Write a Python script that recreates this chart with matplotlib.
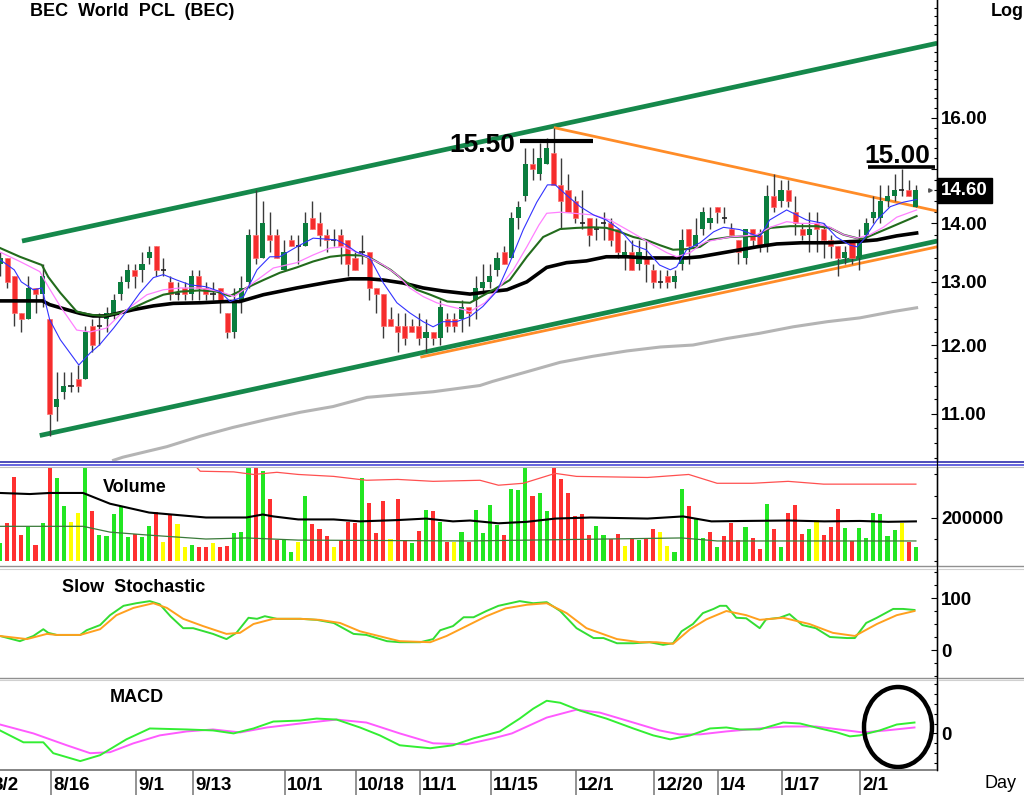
import numpy as np
import matplotlib.pyplot as plt
from matplotlib.lines import Line2D
from matplotlib.patches import Ellipse
from matplotlib.ticker import FixedLocator, NullFormatter, FuncFormatter

plt.rcParams['font.family'] = ['Liberation Sans', 'DejaVu Sans']
plt.rcParams['font.weight'] = 'bold'

# ============================================
# 1. Daily candles (index = trading day)
# ============================================

opens = [13.3, 13.4, 13.1, 12.5, 12.4, 12.9, 12.8, 12.4, 11.1, 11.3,
         11.4, 11.5, 11.5, 12.3, 12.3, 12.4, 12.5, 12.8, 13.0, 13.2,
         13.2, 13.4, 13.6, 13.2, 13.0, 12.8, 12.9, 12.8, 13.1, 12.9,
         12.8, 12.9, 12.5, 12.2, 12.7, 13.0, 13.8, 13.4, 13.8, 13.8,
         13.2, 13.7, 13.6, 13.6, 14.1, 14.0, 13.8, 13.7, 13.8, 13.7,
         13.4, 13.5, 13.5, 12.9, 12.8, 12.4, 12.3, 12.3, 12.3, 12.3,
         12.1, 12.2, 12.1, 12.4, 12.4, 12.4, 12.6, 12.7, 12.9, 13.0,
         13.2, 13.5, 13.4, 14.1, 14.5, 15.1, 14.9, 15.1, 15.3, 14.7,
         14.6, 14.4, 14.0, 14.1, 13.9, 14.0, 14.0, 13.9, 13.4, 13.5,
         13.3, 13.4, 13.2, 13.0, 13.1, 13.0, 13.3, 13.9, 13.6, 13.9,
         14.0, 14.3, 14.1, 13.9, 13.7, 13.4, 13.9, 13.8, 13.6, 14.5,
         14.4, 14.6, 14.2, 13.9, 13.8, 14.0, 13.9, 13.7, 13.6, 13.4,
         13.7, 13.4, 13.8, 14.1, 14.1, 14.4, 14.5, 14.6, 14.6, 14.3]
highs = [13.5, 13.4, 13.1, 12.5, 13.1, 12.9, 13.3, 12.4, 11.6, 11.6,
         11.6, 11.7, 12.3, 12.4, 12.5, 12.6, 12.8, 13.1, 13.3, 13.3,
         13.5, 13.6, 13.6, 13.4, 13.1, 13.0, 13.0, 13.2, 13.2, 13.0,
         13.0, 12.9, 12.5, 12.9, 13.1, 13.9, 14.6, 14.4, 14.2, 13.9,
         13.7, 13.8, 13.8, 14.2, 14.4, 14.2, 13.9, 13.9, 13.9, 13.7,
         13.5, 13.8, 13.5, 12.9, 12.8, 12.6, 12.5, 12.5, 12.4, 12.5,
         12.4, 12.2, 12.7, 12.5, 12.5, 12.7, 12.6, 13.1, 13.3, 13.3,
         13.5, 13.6, 14.2, 14.4, 15.4, 15.4, 15.5, 15.6, 15.8, 15.2,
         14.9, 14.5, 14.6, 14.1, 14.1, 14.2, 14.1, 13.9, 13.7, 13.7,
         13.7, 13.7, 13.3, 13.2, 13.2, 13.2, 13.9, 13.9, 14.1, 14.3,
         14.3, 14.3, 14.3, 14.0, 13.7, 13.9, 13.9, 13.9, 14.7, 14.9,
         14.8, 14.8, 14.5, 14.0, 14.2, 14.2, 14.0, 13.8, 13.6, 13.6,
         13.7, 13.9, 14.1, 14.5, 14.7, 14.7, 14.9, 15.0, 14.8, 14.7]
lows = [13.1, 12.9, 12.3, 12.2, 12.4, 12.5, 12.6, 10.7, 10.9, 11.2,
        11.3, 11.3, 11.5, 11.9, 12.0, 12.2, 12.4, 12.7, 12.9, 12.9,
        13.0, 13.3, 13.1, 13.1, 12.7, 12.7, 12.7, 12.7, 12.7, 12.7,
        12.7, 12.5, 12.1, 12.1, 12.5, 12.9, 13.3, 13.4, 13.5, 13.4,
        13.2, 13.6, 13.3, 13.6, 13.9, 13.6, 13.5, 13.6, 13.3, 13.1,
        13.2, 13.3, 12.7, 12.5, 12.1, 12.3, 11.9, 12.0, 12.2, 12.0,
        11.9, 12.0, 12.0, 12.2, 12.2, 12.2, 12.3, 12.4, 12.8, 12.9,
        13.1, 13.3, 13.4, 13.9, 14.4, 14.8, 14.8, 15.1, 14.7, 13.9,
        14.2, 14.0, 13.9, 13.6, 13.7, 13.7, 13.6, 13.4, 13.2, 13.2,
        13.2, 13.0, 12.9, 12.9, 12.9, 12.9, 13.2, 13.3, 13.6, 13.8,
        13.9, 14.0, 14.0, 13.8, 13.3, 13.3, 13.6, 13.5, 13.5, 14.2,
        14.3, 14.3, 13.8, 13.7, 13.5, 13.5, 13.4, 13.4, 13.1, 13.3,
        13.3, 13.2, 13.7, 14.0, 14.0, 14.3, 14.4, 14.5, 14.5, 14.3]
closes = [13.4, 13.0, 12.5, 12.4, 12.9, 12.8, 13.1, 11.0, 11.2, 11.4,
          11.4, 11.4, 12.2, 12.0, 12.3, 12.5, 12.7, 13.0, 13.2, 13.1,
          13.3, 13.5, 13.2, 13.2, 12.8, 12.8, 12.8, 13.1, 12.9, 12.8,
          12.8, 12.7, 12.2, 12.7, 12.9, 13.8, 13.4, 14.0, 13.7, 13.4,
          13.5, 13.6, 13.6, 14.0, 13.9, 13.8, 13.7, 13.7, 13.6, 13.3,
          13.2, 13.5, 12.9, 12.8, 12.3, 12.3, 12.2, 12.1, 12.2, 12.1,
          12.2, 12.1, 12.6, 12.3, 12.3, 12.6, 12.5, 12.9, 13.0, 13.1,
          13.4, 13.3, 14.1, 14.3, 15.1, 15.0, 15.2, 15.4, 14.7, 14.4,
          14.2, 14.1, 14.0, 13.8, 13.9, 14.0, 13.7, 13.5, 13.5, 13.2,
          13.5, 13.3, 13.0, 13.0, 13.0, 13.1, 13.7, 13.6, 13.8, 14.2,
          14.1, 14.2, 14.1, 13.8, 13.5, 13.9, 13.7, 13.6, 14.5, 14.3,
          14.6, 14.4, 14.0, 13.8, 13.9, 13.9, 13.7, 13.6, 13.4, 13.5,
          13.4, 13.7, 14.0, 14.2, 14.4, 14.5, 14.6, 14.6, 14.5, 14.6]

# moving averages (sampled along the drawn lines)
ma_blue_x = [0, 2, 3, 4.7, 5.9, 7, 8.5, 11.1, 12.7, 14, 16, 17.8, 19.7, 21.6, 23, 24.9,
             26.8, 29, 31, 32.4, 34.3, 36.2, 38, 39.4, 41.8, 44.1, 47.4, 48.8, 50.2, 52,
             54, 55.9, 57.7, 59.6, 61, 62.4, 64.3, 66.2, 68, 70, 71.8, 73.7, 75.6, 77.1,
             78.2, 79.8, 81.7, 83.6, 85.4, 87.3, 89.2, 91, 92.9, 94.4, 95.3, 96.7, 98.6,
             100.5, 101.9, 104.2, 107, 108.4, 110.8, 112.2, 113.6, 116, 117.8, 119.7,
             120.7, 121.6, 123.5, 125.4, 127.2, 129.1]
ma_blue = [13.37, 13.2, 13.0, 12.87, 12.9, 12.39, 12.08, 11.7, 11.88, 12.0, 12.26, 12.52,
           12.82, 13.07, 13.12, 13.03, 12.95, 12.92, 12.84, 12.68, 12.76, 13.2, 13.42,
           13.42, 13.59, 13.74, 13.71, 13.62, 13.5, 13.42, 12.98, 12.66, 12.5, 12.36,
           12.28, 12.36, 12.36, 12.44, 12.6, 12.85, 13.32, 13.89, 14.38, 14.7, 14.7,
           14.51, 14.3, 14.15, 14.06, 13.89, 13.62, 13.54, 13.28, 13.2, 13.25, 13.54,
           13.66, 13.85, 13.93, 13.89, 13.76, 14.06, 14.24, 14.15, 14.06, 14.0, 13.76,
           13.62, 13.59, 13.71, 14.06, 14.3, 14.38, 14.43]

ma_pink_x = [0, 2.8, 5.6, 6.8, 8.5, 10.8, 12.7, 15, 16.9, 18.8, 20.7, 23, 25.4, 28.2, 31,
             33, 36.2, 38.5, 41.8, 44.1, 46.5, 48.4, 50.2, 52, 54, 55.9, 57.7, 59.6, 61.5,
             63.4, 65.3, 66.2, 68.3, 70.4, 72.3, 74.2, 75.9, 77, 78.9, 80.8, 83.6, 85.9,
             88.3, 90.1, 92, 93.9, 95.3, 97.2, 98.6, 99.5, 102.8, 106.6, 108.5, 110.8,
             112.7, 115, 116.9, 118.8, 120.7, 122.5, 124.4, 126.3, 129.1]
ma_pink = [13.5, 13.34, 13.17, 12.92, 12.6, 12.23, 12.2, 12.26, 12.47, 12.63, 12.79, 12.87,
           12.9, 12.9, 12.84, 12.76, 13.03, 13.23, 13.32, 13.45, 13.57, 13.59, 13.5, 13.4,
           13.28, 13.12, 12.9, 12.76, 12.66, 12.6, 12.55, 12.52, 12.66, 12.92, 13.2,
           13.59, 13.97, 14.18, 14.2, 14.18, 14.15, 14.06, 13.89, 13.76, 13.62, 13.49,
           13.42, 13.49, 13.62, 13.68, 13.76, 13.8, 13.93, 14.03, 14.0, 14.0, 13.93, 13.8,
           13.74, 13.8, 13.93, 14.11, 14.24]

ma_green_x = [0, 2.8, 5.9, 6.8, 8.5, 10.8, 12.7, 14.6, 16.9, 18.8, 20.7, 23, 25.4, 28.2,
              30.5, 32.4, 34.7, 37.1, 39.4, 41.8, 44.1, 46.5, 48.8, 51.2, 52.6, 55, 56.8,
              58.7, 60.6, 63, 66.2, 69.5, 71.8, 74.2, 76.5, 78.9, 81.2, 83.6, 85.4, 87.3,
              89.2, 91, 92.9, 94.8, 96.7, 98.6, 100, 102.8, 106.6, 108.5, 111.3, 115,
              116.9, 118.8, 120.7, 121.6, 123.5, 125.4, 129.1]
ma_green = [13.57, 13.42, 13.28, 13.08, 12.82, 12.52, 12.47, 12.45, 12.5, 12.58, 12.68,
            12.79, 12.84, 12.86, 12.84, 12.77, 12.9, 13.03, 13.15, 13.24, 13.34, 13.42,
            13.45, 13.44, 13.37, 13.2, 13.03, 12.87, 12.79, 12.68, 12.66, 12.87, 13.03,
            13.42, 13.76, 13.9, 13.92, 13.93, 13.92, 13.85, 13.76, 13.71, 13.62, 13.54,
            13.55, 13.59, 13.71, 13.76, 13.78, 13.92, 13.95, 13.95, 13.92, 13.8, 13.74,
            13.73, 13.83, 13.93, 14.13]

ma_black_x = [0, 6, 7, 9.4, 11.3, 13.1, 15, 16.9, 18.8, 21.6, 24.4, 28.2, 31.9, 33.8, 37.1,
              41.8, 46.5, 49.3, 52, 54, 56.8, 59.6, 62.4, 66.2, 67.6, 71.4, 74.2, 77, 79.8,
              82.6, 85.4, 88.3, 91, 93.9, 96.7, 98.6, 101.9, 106.6, 109.4, 112.9, 116.9,
              119.7, 121.6, 123.5, 126.3, 129.1]
ma_black = [12.69, 12.69, 12.63, 12.55, 12.49, 12.45, 12.45, 12.5, 12.55, 12.61, 12.65,
            12.66, 12.68, 12.68, 12.79, 12.9, 13.0, 13.05, 13.05, 13.03, 12.98, 12.9, 12.85,
            12.8, 12.82, 12.87, 13.0, 13.24, 13.32, 13.35, 13.42, 13.42, 13.4, 13.4, 13.4,
            13.42, 13.49, 13.59, 13.64, 13.66, 13.66, 13.68, 13.69, 13.71, 13.78, 13.83]

ma_gray_x = [16, 17.3, 23.5, 28.2, 32.8, 37.6, 42.3, 46.9, 51.7, 56.3, 61, 67.6, 69.4, 74.2,
             78.9, 83.5, 88.3, 93, 97.6, 102.4, 107, 111.7, 116.5, 121.1, 125.8, 129.1]
ma_gray = [10.37, 10.41, 10.55, 10.69, 10.81, 10.92, 11.02, 11.1, 11.23, 11.27, 11.31, 11.4,
           11.46, 11.6, 11.74, 11.83, 11.91, 11.97, 12.0, 12.1, 12.18, 12.28, 12.36, 12.42,
           12.52, 12.58]

# trend lines drawn by hand on the chart (x = day index, y = price)
channel_top_x, channel_top_y = [3.1, 132.0], [13.69, 17.59]
channel_bot_x, channel_bot_y = [5.6, 132.0], [10.70, 13.69]
support_x, support_y = [59.4, 132.0], [11.82, 13.59]
resist_x, resist_y = [78.2, 132.0], [15.80, 14.22]
top_1550_x, top_1550_y = [73.2, 83.5], [15.54, 15.54]
top_1500_x, top_1500_y = [122.3, 131.7], [15.03, 15.03]
last_price = 14.60

# ============================================
# 2. Volume (thousands of shares) and its averages
# ============================================

volume_k = [82, 173, 386, 118, 155, 73, 173, 440, 382, 255,
            177, 223, 440, 232, 118, 114, 218, 255, 109, 123,
            109, 159, 227, 86, 218, 168, 64, 73, 64, 64,
            82, 64, 68, 127, 132, 440, 440, 415, 286, 95,
            95, 41, 86, 300, 168, 145, 114, 64, 95, 177,
            173, 382, 268, 127, 277, 100, 286, 95, 82, 136,
            236, 232, 177, 86, 86, 132, 88, 235, 129, 258,
            167, 118, 333, 330, 440, 300, 314, 230, 440, 379,
            314, 209, 217, 121, 162, 118, 98, 124, 68, 103,
            94, 98, 148, 132, 68, 41, 333, 255, 200, 103,
            132, 64, 112, 174, 95, 156, 103, 53, 262, 148,
            64, 220, 258, 124, 148, 189, 117, 156, 241, 152,
            92, 152, 103, 220, 217, 112, 141, 174, 86, 64]
# g = up on previous close, r = down, y = unchanged
volume_tone = list('grrrgrgrgg' 'yygrgggggr' 'ggryryygrr' 'yrrgggrgrr'
                   'ggygrrryrr' 'rgrrryrrgr' 'grgrygrggg' 'grgggrggrr'
                   'rrrrggrryr' 'grryyggrgg' 'rgrrrgrrgr' 'grrrgyrrrg'
                   'rggggggyrg')

vol_black_x = [0, 4.2, 7, 11.7, 15.5, 21, 29, 34.7, 37, 38.5, 42, 47, 50.7, 56, 60, 63.8,
               66.2, 70.2, 74.2, 78.2, 83.2, 91.2, 96.2, 100.2, 105, 111.1, 116.1, 121.1,
               125.1, 129]
vol_black = [314, 309, 314, 314, 264, 223, 200, 200, 214, 205, 191, 191, 182, 188, 195, 182,
             186, 173, 180, 195, 200, 195, 205, 182, 184, 186, 182, 184, 180, 182]
vol_green_x = [0, 11.7, 15.5, 21, 29, 34.7, 42, 66, 96, 101, 129]
vol_green = [159, 159, 132, 118, 100, 105, 95, 91, 105, 91, 91]
vol_red_x = [27.5, 28.2, 32.9, 35.7, 39, 42, 47, 51.6, 56, 61, 67.6, 70.2, 73.7, 78.2, 81.2,
             91.2, 97, 101, 106, 111, 116, 129]
vol_red = [440, 415, 412, 400, 410, 400, 391, 373, 377, 368, 373, 350, 359, 405, 391, 386,
           400, 359, 359, 368, 355, 355]

# ============================================
# 3. Slow stochastic and MACD
# ============================================

stoch_k_x = [0, 2.8, 4.7, 6.1, 6.8, 8, 11.3, 12.2, 14.1, 15.5, 17.4, 19.2, 21.1, 22.5, 24,
             25.8, 27.2, 30, 31.9, 33.3, 35, 36.2, 37.3, 39, 42.3, 44.6, 47, 49.8, 51.6,
             54.5, 56.3, 59.2, 61, 62, 63.8, 65.3, 66.7, 68.5, 70.2, 73.2, 75.1, 77, 78.9,
             81.2, 83.6, 85, 86.9, 89.2, 91.5, 93.4, 94.8, 96, 97.6, 99, 100.5, 101.4,
             102.3, 103.7, 105.1, 107, 107.9, 109.8, 111.2, 113, 114.9, 116.9, 119.3,
             120.4, 122, 123.5, 125.8, 127.2, 128.8]
stoch_k = [27, 17, 27, 40, 33, 29, 29, 38, 48, 67, 85, 90, 94, 88, 65, 42, 42, 31, 21, 33,
           62, 60, 65, 60, 60, 58, 52, 31, 29, 17, 15, 15, 21, 38, 46, 63, 63, 75, 85, 94,
           90, 92, 75, 42, 23, 23, 13, 13, 15, 10, 13, 36, 50, 71, 79, 85, 85, 62, 61, 42,
           59, 62, 69, 48, 42, 25, 23, 23, 52, 62, 79, 79, 77]
stoch_d_x = [0, 3.8, 6.6, 8, 11.3, 14.1, 16.4, 18.8, 21.6, 23.5, 25.8, 28.6, 31.9, 33.8,
             35.7, 38.5, 42.3, 45, 47.9, 50.7, 54.5, 56.3, 60.6, 62.9, 65.7, 68.5, 71.2,
             74.2, 77, 79.8, 82.6, 86.9, 90.1, 92.4, 94.8, 97.2, 99.5, 102.3, 105.1, 107,
             110.3, 114, 117.3, 120.4, 123.5, 126.3, 128.8]
stoch_d = [27, 21, 31, 29, 29, 40, 67, 81, 90, 81, 60, 46, 31, 33, 50, 60, 60, 58, 52, 36,
           23, 17, 15, 27, 46, 65, 80, 87, 90, 71, 42, 21, 15, 15, 12, 40, 59, 75, 67, 58,
           62, 50, 33, 27, 50, 67, 75]

macd_x = [0, 3.3, 6.1, 7.5, 11.3, 14.1, 17.8, 21.1, 26.3, 30, 32.9, 35.7, 38.5, 42.3, 44.6,
          47.4, 50.7, 53.5, 56.3, 60.6, 63.8, 66.7, 70.4, 73.2, 75.1, 77, 78.9, 81.7, 85.4,
          89.2, 92, 94.4, 97.2, 100, 102.3, 104.2, 107, 110.3, 112.7, 115.5, 117.9, 119.7,
          121.1, 123.9, 126.3, 128.8]
macd = [0.03, -0.09, -0.09, -0.2, -0.28, -0.22, -0.06, 0.05, 0.04, 0.03, 0.0, 0.05, 0.12,
        0.13, 0.15, 0.14, 0.06, -0.02, -0.12, -0.15, -0.12, -0.05, 0.02, 0.15, 0.25, 0.33,
        0.31, 0.23, 0.15, 0.05, -0.02, -0.06, -0.02, 0.05, 0.06, 0.04, 0.04, 0.11, 0.1,
        0.05, 0.01, -0.03, -0.02, 0.03, 0.09, 0.11]
signal_x = [0, 4.7, 9.4, 12.7, 15.5, 18.8, 22.5, 26.3, 30, 33.8, 37.6, 42.3, 47.4, 51.6,
            56.3, 61, 65.7, 69.5, 72.1, 77, 81.2, 84.5, 89.2, 92.9, 95.7, 98.6, 102.3, 107,
            110.7, 114.9, 118.2, 121.5, 124.8, 128.8]
signal = [0.09, 0.0, -0.12, -0.2, -0.19, -0.1, -0.02, 0.02, 0.04, 0.01, 0.06, 0.1, 0.14,
          0.11, 0.0, -0.1, -0.11, -0.05, 0.0, 0.16, 0.24, 0.21, 0.11, 0.03, -0.01, -0.01,
          0.02, 0.05, 0.07, 0.07, 0.04, 0.01, 0.03, 0.06]

date_labels = ['8/2', '8/16', '9/1', '9/13', '10/1', '10/18', '11/1', '11/15', '12/1',
               '12/20', '1/4', '1/17', '2/1']
date_pos = [-1.5, 7, 19, 27, 40, 50, 59, 69, 81, 92, 101, 110, 121]

# ============================================
# 4. Layout
# ============================================

W, H = 1024, 795
XMAX = 937 / 7.1


def panel(top, bottom, left=0, right=937):
    return [left / W, 1 - bottom / H, (right - left) / W, (bottom - top) / H]


def hline_fig(y, color, lw):
    fig.add_artist(Line2D([0, 1], [1 - y / H, 1 - y / H], transform=fig.transFigure,
                          color=color, lw=lw))


fig = plt.figure(figsize=(W / 100, H / 100), dpi=100)
ax_p = fig.add_axes(panel(0, 461))
ax_v = fig.add_axes(panel(468, 565))
ax_s = fig.add_axes(panel(569, 677))
ax_m = fig.add_axes(panel(680, 770))
ax_d = fig.add_axes(panel(770, 795))

for ax in [ax_p, ax_v, ax_s, ax_m]:
    ax.set_xlim(0, XMAX)
    for side in ['top', 'left', 'bottom']:
        ax.spines[side].set_visible(False)
    ax.spines['right'].set_linewidth(1.0)
    ax.yaxis.tick_right()
    ax.set_xticks([])
    ax.tick_params(axis='y', which='major', direction='in', length=4, width=0.8,
                   pad=3, labelsize=13.5)
    ax.tick_params(axis='y', which='minor', direction='in', length=2.5, width=0.8)

# ============================================
# 5. Price panel
# ============================================

idx = np.arange(len(closes))
o = np.array(opens)
h = np.array(highs)
l = np.array(lows)
c = np.array(closes)

ax_p.set_yscale('log')
ax_p.set_ylim(10.36, 18.58)

ax_p.plot(channel_top_x, channel_top_y, color='#15884b', lw=3.4, solid_capstyle='butt', zorder=2)
ax_p.plot(channel_bot_x, channel_bot_y, color='#15884b', lw=3.4, solid_capstyle='butt', zorder=2)
ax_p.plot(support_x, support_y, color='#ff8c28', lw=2.0, zorder=1.9)
ax_p.plot(resist_x, resist_y, color='#ff8c28', lw=2.0, zorder=2)
ax_p.plot(ma_gray_x, ma_gray, color='#b4b4b4', lw=2.2, zorder=2)

ax_p.vlines(idx, l, h, color='#3a3a3a', lw=1.0, zorder=3)
up = c > o
down = c < o
flat = c == o
ax_p.bar(idx[up], c[up] - o[up], bottom=o[up], width=0.72, color='#0b7d3e', zorder=4)
ax_p.bar(idx[down], o[down] - c[down], bottom=c[down], width=0.72, color='#f52d2d',
         edgecolor='#ff7070', lw=0.5, zorder=4)
ax_p.hlines(c[flat], idx[flat] - 0.38, idx[flat] + 0.38, color='#202020', lw=1.2, zorder=4)

ax_p.plot(ma_black_x, ma_black, color='black', lw=2.6, zorder=5)
ax_p.plot(ma_green_x, ma_green, color='#226b1c', lw=1.5, zorder=5)
ax_p.plot(ma_pink_x, ma_pink, color='#ff80ff', lw=0.9, zorder=5)
ax_p.plot(ma_blue_x, ma_blue, color='#3333ff', lw=0.8, zorder=5)

ax_p.plot(top_1550_x, top_1550_y, color='black', lw=3.0, solid_capstyle='butt', zorder=6)
ax_p.plot(top_1500_x, top_1500_y, color='black', lw=2.6, solid_capstyle='butt', zorder=6)
ax_p.text(72.6, 15.33, '15.50', fontsize=19, ha='right', va='baseline', zorder=7)
ax_p.text(121.8, 15.11, '15.00', fontsize=19, ha='left', va='baseline', zorder=7)
ax_p.plot([131.0], [last_price], marker='>', ms=2.5, color='#555555', zorder=6)

ax_p.yaxis.set_major_locator(FixedLocator([11, 12, 13, 14, 15, 16]))
ax_p.yaxis.set_major_formatter(FuncFormatter(lambda v, p: '' if v == 15 else f'{v:.2f}'))
ax_p.yaxis.set_minor_locator(FixedLocator([round(10.4 + 0.2 * k, 1) for k in range(41)]))
ax_p.yaxis.set_minor_formatter(NullFormatter())
ax_p.text(1.004, last_price, f'{last_price:.2f}', transform=ax_p.get_yaxis_transform(),
          color='white', fontsize=13.5, ha='left', va='center',
          bbox=dict(boxstyle='square,pad=0.22', fc='black', ec='black'))

# ============================================
# 6. Volume panel
# ============================================

tone_color = {'g': '#22e622', 'r': '#ff3030', 'y': '#ffff00'}
ax_v.bar(idx, volume_k, width=0.58, color=[tone_color[t] for t in volume_tone], zorder=2)
ax_v.plot(vol_red_x, vol_red, color='#ff5050', lw=0.9, zorder=3)
ax_v.plot(vol_green_x, vol_green, color='#3a7a3a', lw=0.9, zorder=3)
ax_v.plot(vol_black_x, vol_black, color='black', lw=1.5, zorder=3)
ax_v.set_ylim(-20.7, 430)
ax_v.yaxis.set_major_locator(FixedLocator([200]))
ax_v.yaxis.set_major_formatter(FuncFormatter(lambda v, p: '200000'))
ax_v.yaxis.set_minor_locator(FixedLocator([0, 100, 300, 400]))
fig.text(103 / W, 1 - 487 / H, 'Volume', fontsize=13, va='center')

# ============================================
# 7. Slow stochastic panel
# ============================================

ax_s.plot(stoch_k_x, stoch_k, color='#33dd33', lw=1.4)
ax_s.plot(stoch_d_x, stoch_d, color='#ffa01e', lw=1.4)
ax_s.set_ylim(-51.9, 155.8)
ax_s.yaxis.set_major_locator(FixedLocator([0, 100]))
ax_s.yaxis.set_minor_locator(FixedLocator([-50, -25, 25, 50, 75, 125, 150]))
fig.text(62 / W, 1 - 587 / H, 'Slow  Stochastic', fontsize=13, va='center')

# ============================================
# 8. MACD panel
# ============================================

ax_m.plot(signal_x, signal, color='#ff5aff', lw=1.4)
ax_m.plot(macd_x, macd, color='#33ee33', lw=1.4)
ax_m.set_ylim(-0.37, 0.54)
ax_m.yaxis.set_major_locator(FixedLocator([0]))
ax_m.yaxis.set_major_formatter(FuncFormatter(lambda v, p: '0'))
ax_m.yaxis.set_minor_locator(FixedLocator([-0.3, -0.2, -0.1, 0.1, 0.2, 0.3, 0.4, 0.5]))
fig.text(110 / W, 1 - 698 / H, 'MACD', fontsize=13, va='center')

# circle drawn around the latest crossover
fig.add_artist(Ellipse((898 / W, 1 - 727 / H), 68 / W, 80 / H, transform=fig.transFigure,
                       fill=False, ec='black', lw=3.2))

# ============================================
# 9. Date strip, separators and headings
# ============================================

ax_d.set_xlim(0, XMAX)
ax_d.set_ylim(0, 1)
ax_d.axis('off')
for pos, lab in zip(date_pos, date_labels):
    ax_d.vlines(pos + 0.15, 0, 1, color='#808080', lw=1.2)
    ax_d.text(pos + 0.45, 0.36, lab, fontsize=13.5, ha='left', va='center', clip_on=True)

hline_fig(461.5, '#1c1ca6', 1.1)
hline_fig(464.5, '#3a3ad6', 1.1)
hline_fig(467.3, '#c0c0c0', 0.8)
hline_fig(566.0, '#909090', 1.0)
hline_fig(568.6, '#d0d0d0', 0.8)
hline_fig(677.6, '#909090', 1.0)
hline_fig(680.2, '#d0d0d0', 0.8)
fig.add_artist(Line2D([0, 937 / W], [1 - 770 / H, 1 - 770 / H], transform=fig.transFigure,
                      color='#707070', lw=1.2))
fig.add_artist(Line2D([937 / W, 937 / W], [1 - 770 / H, 1], transform=fig.transFigure,
                      color='black', lw=0.9))

fig.text(30 / W, 1 - 12 / H, 'BEC  World  PCL  (BEC)', fontsize=13, va='center')
fig.text(991 / W, 1 - 12 / H, 'Log', fontsize=13, va='center')
fig.text(984 / W, 1 - 784 / H, 'Day', fontsize=13, fontweight='normal', va='center')

fig.savefig('out.png', dpi=100, facecolor='white')
